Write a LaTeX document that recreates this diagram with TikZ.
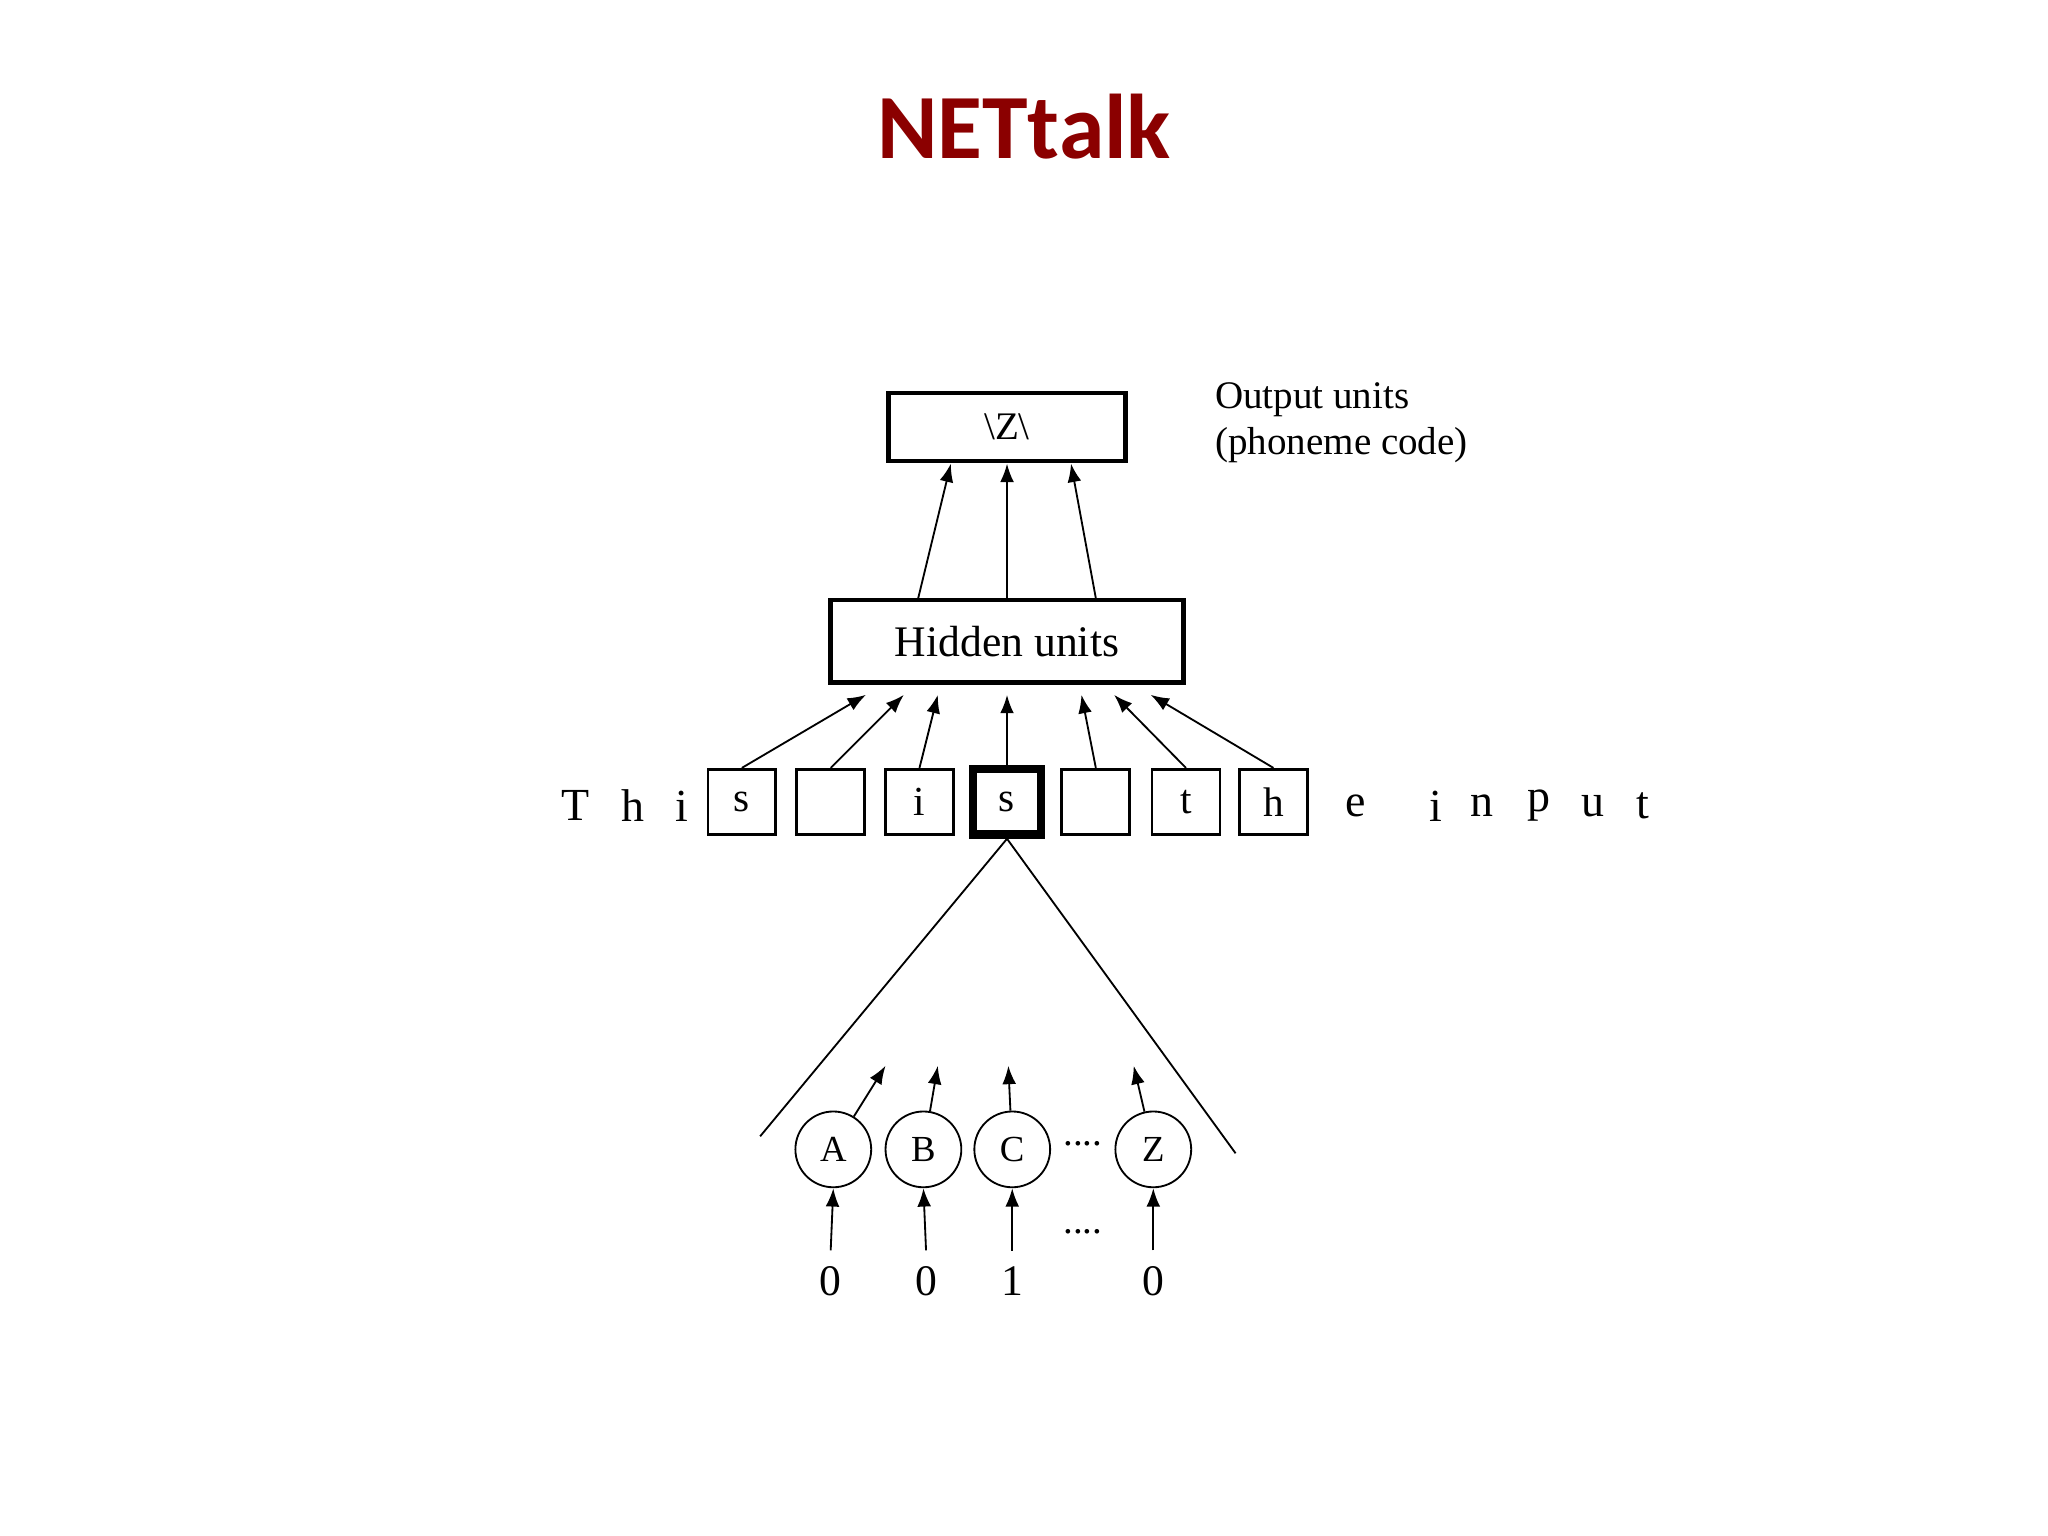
\documentclass[tikz,border=0pt]{standalone}
\usepackage{fontspec}
\setmainfont{Liberation Serif}
\newfontfamily\titlefont{Carlito}
\usetikzlibrary{arrows.meta}
\definecolor{titlered}{HTML}{8B0000}
\begin{document}
\begin{tikzpicture}[x=0.01cm,y=-0.01cm,
  lbl/.style={font=\fontsize{8.5}{10}\selectfont},
  box/.style={draw,line width=0.6pt,minimum width=0.52cm,minimum height=0.5cm,inner sep=0pt,font=\fontsize{9}{10}\selectfont},
  arr/.style={-{Latex[length=4pt,width=3pt]},line width=0.4pt},
  circ/.style={draw,circle,minimum size=0.58cm,inner sep=0pt,line width=0.4pt,font=\fontsize{8}{10}\selectfont}]
\useasboundingbox (0,0) rectangle (1568,1176);
\node[font=\titlefont\bfseries\fontsize{20}{24}\selectfont,text=titlered] (title) at (784,97) {NETtalk};
\node[draw,line width=1pt,minimum width=1.81cm,minimum height=0.52cm,inner sep=0pt,lbl] (out) at (771,327) {\textbackslash Z\textbackslash};
\node[lbl,align=left,anchor=west] (outlbl) at (918,324) {Output units\\(phoneme code)};
\node[draw,line width=1pt,minimum width=2.7cm,minimum height=0.63cm,inner sep=0pt,font=\fontsize{9.5}{10}\selectfont] (hid) at (771,491) {Hidden units};
\coordinate (h1) at (703,458); \coordinate (h2) at (771,458); \coordinate (h3) at (839,458);
\coordinate (o1) at (728,355); \coordinate (o2) at (771,355); \coordinate (o3) at (820,355);
\draw[arr] (h1) -- (o1); \draw[arr] (h2) -- (o2); \draw[arr] (h3) -- (o3);
\node[box] (b1) at (568,614) {s};
\node[box] (b2) at (636,614) {};
\node[box] (b3) at (704,614) {i};
\node[box,line width=1.8pt] (b4) at (771,614) {s};
\node[box] (b5) at (839,614) {};
\node[box] (b6) at (908,614) {t};
\node[box] (b7) at (975,614) {h};
\foreach \n/\x/\c in {l1/441/T,l2/485/h,l3/522/i,r1/1038/e,r2/1099/i,r3/1135/n,r4/1178/p,r5/1220/u,r6/1258/t}
  \node[font=\fontsize{10}{10}\selectfont] (\n) at (\x,617) {\c};
\foreach \b/\x in {b1/663,b2/692,b3/718,b4/771,b5/828,b6/853,b7/881}
  { \coordinate (t\b) at (\x,532); \draw[arr] (\b.north) -- (t\b); }
\coordinate (fl) at (582,870); \coordinate (fr) at (946,883);
\draw[line width=0.4pt] (fl) -- (b4.south) -- (fr);
\node[circ] (cA) at (638,880) {A};
\node[circ] (cB) at (707,880) {B};
\node[circ] (cC) at (775,880) {C};
\node[circ] (cZ) at (883,880) {Z};
\node[lbl] (d1) at (829,876) {....};
\node[lbl] (d2) at (829,943) {....};
\foreach \c/\x in {cA/678,cB/718,cC/772,cZ/868}
  { \coordinate (u\c) at (\x,816); \draw[arr] (\c) -- (u\c); }
\foreach \c/\x/\v in {cA/636/0,cB/709/0,cC/775/1,cZ/883/0}
  { \node[font=\fontsize{9.5}{10}\selectfont] (n\c) at (\x,981) {\v}; \draw[arr] (n\c.north) -- (\c.south); }
\end{tikzpicture}
\end{document}
